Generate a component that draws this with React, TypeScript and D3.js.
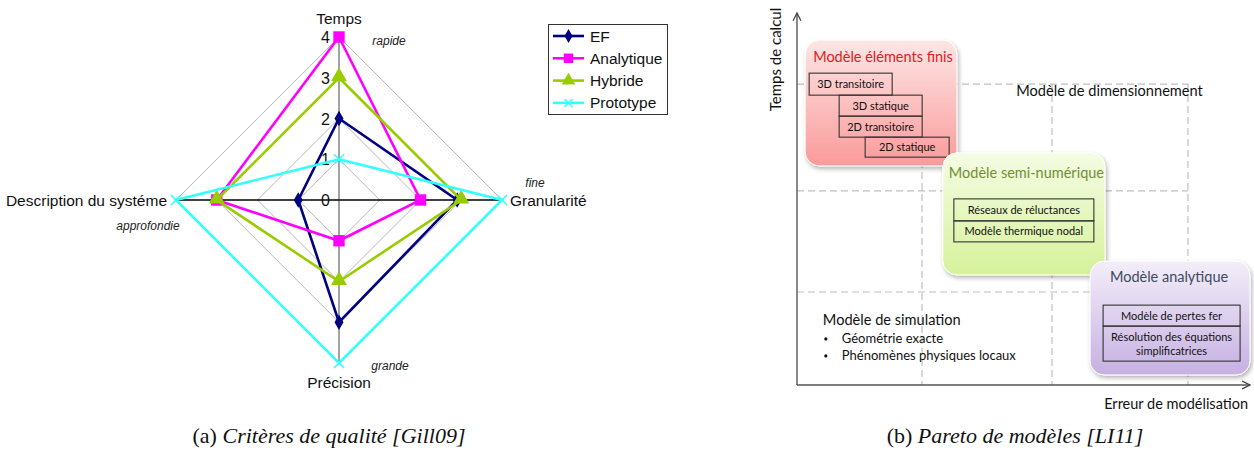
import * as d3 from "d3";

// ---- (a) radar: quality criteria ----
const axes = ["Temps", "Granularité", "Précision", "Description du systéme"];
const axisQualifiers = ["rapide", "fine", "grande", "approfondie"];
const ticks = [0, 1, 2, 3, 4];
const seriesNames = ["EF", "Analytique", "Hybride", "Prototype"];
const efValues = [2, 2.9, 3, 1];
const analytiqueValues = [4, 2, 1, 3];
const hybrideValues = [3, 3, 2, 3];
const prototypeValues = [1, 4, 4, 4];

// ---- (b) pareto of models ----
const paretoGridErr = [2.76, 5.63, 8.63];
const paretoGridTime = [2.5, 5.22, 8.09];
const groupTitles = ["Modèle éléments finis", "Modèle semi-numérique", "Modèle analytique"];
const groupErrSpan = [[0.18, 3.53], [3.22, 6.8], [6.47, 10.0]];
const groupTimeSpan = [[5.89, 9.27], [2.96, 6.24], [0.27, 3.33]];
const groupItems = [
  ["3D transitoire", "3D statique", "2D transitoire", "2D statique"],
  ["Réseaux de réluctances", "Modèle thermique nodal"],
  ["Modèle de pertes fer", "Résolution des équations|simplificatrices"],
];
const noteTexts = ["Modèle de dimensionnement", "Modèle de simulation"];
const notePos = [[4.84, 7.9], [0.57, 1.75]];
const bulletTexts = ["Géométrie exacte", "Phénomènes physiques locaux"];

const W = 1254;
const H = 450;

const COLORS = ["#000080", "#ff00ff", "#99cc00", "#33ffff"];
const ARIAL = "'Liberation Sans', Arial, sans-serif";
const CALIBRI = "Lato, 'Open Sans', sans-serif";
const SERIF = "'Liberation Serif', 'Times New Roman', serif";

// layout of item boxes inside each group (px offsets)
const ITEM_LAYOUT = [
  [
    { dx: 4, dy: 33, w: 83, h: 22 },
    { dx: 34, dy: 55, w: 83, h: 21 },
    { dx: 34, dy: 76, w: 83, h: 21 },
    { dx: 60, dy: 97, w: 84, h: 20 },
  ],
  [
    { dx: 11, dy: 46, w: 140, h: 22 },
    { dx: 11, dy: 68, w: 140, h: 21 },
  ],
  [
    { dx: 13, dy: 44, w: 137, h: 21 },
    { dx: 13, dy: 65, w: 137, h: 35 },
  ],
];
const GROUP_STYLE = [
  { top: "#fde6e6", bottom: "#fb9a9a", title: "#e0201c", tdx: 8, tdy: 22, anchor: "start" },
  { top: "#f5fce4", bottom: "#d6f29a", title: "#6f8f35", tdx: 6, tdy: 25, anchor: "start" },
  { top: "#f3eef9", bottom: "#c6b0e2", title: "#3e4a5e", tdx: -1, tdy: 21, anchor: "middle" },
];

function Radar() {
  const cx = 339;
  const cy = 200;
  const r = d3.scaleLinear().domain([0, 4]).range([0, 163]);
  const angle = (i: number) => (i * Math.PI) / 2;
  const pt = (i: number, v: number): [number, number] => [
    Math.sin(angle(i)) * r(v),
    -Math.cos(angle(i)) * r(v),
  ];
  const radial = d3
    .lineRadial<number>()
    .angle((_, i) => angle(i))
    .radius((v) => r(v))
    .curve(d3.curveLinearClosed);
  const series = [efValues, analytiqueValues, hybrideValues, prototypeValues];
  const diamond = d3.symbol(d3.symbolDiamond, 70)()!;
  const square = d3.symbol(d3.symbolSquare, 130)()!;
  const triangle = d3.symbol(d3.symbolTriangle, 110)()!;

  const marker = (k: number, key: string) => {
    const c = COLORS[k];
    if (k === 0) return <path key={key} d={diamond} fill={c} />;
    if (k === 1) return <path key={key} d={square} fill={c} />;
    if (k === 2) return <path key={key} d={triangle} fill={c} transform="translate(0,-1)" />;
    return <path key={key} d="M-5,-5L5,5M-5,5L5,-5" stroke={c} strokeWidth={1.6} fill="none" />;
  };

  const labelPos = [
    { x: 0, y: -r(4) - 13, anchor: "middle" },
    { x: r(4) + 8, y: 6, anchor: "start" },
    { x: 0, y: r(4) + 25, anchor: "middle" },
    { x: -r(4) - 9, y: 6, anchor: "end" },
  ];
  const qualPos = [
    { x: 50, y: -r(4) + 8 },
    { x: r(4) + 33, y: -13 },
    { x: 51, y: r(4) + 7 },
    { x: -r(4) - 28, y: 30 },
  ];

  return (
    <g transform={`translate(${cx},${cy})`}>
      {ticks.slice(1).map((t) => (
        <path
          key={t}
          d={radial(axes.map(() => t)) ?? ""}
          fill="none"
          stroke="#9a9a9a"
          strokeWidth={0.7}
        />
      ))}
      <line x1={0} y1={-r(4)} x2={0} y2={r(4)} stroke="#707070" strokeWidth={1.3} />
      <line x1={-r(4)} y1={0} x2={r(4)} y2={0} stroke="#000" strokeWidth={1.3} />
      {ticks.map((t) => (
        <text
          key={t}
          x={-9}
          y={-r(t) + 6}
          textAnchor="end"
          fontFamily={ARIAL}
          fontSize={16}
          fill="#111"
        >
          {t}
        </text>
      ))}
      {series.map((vals, k) => (
        <g key={k}>
          <path d={radial(vals) ?? ""} fill="none" stroke={COLORS[k]} strokeWidth={2.6} strokeLinejoin="miter" />
          {vals.map((v, i) => {
            const [x, y] = pt(i, v);
            return (
              <g key={i} transform={`translate(${x},${y})`}>
                {marker(k, `m${k}${i}`)}
              </g>
            );
          })}
        </g>
      ))}
      {axes.map((a, i) => (
        <text
          key={a}
          x={labelPos[i].x}
          y={labelPos[i].y}
          textAnchor={labelPos[i].anchor as any}
          fontFamily={ARIAL}
          fontSize={15.5}
          fill="#111"
        >
          {a}
        </text>
      ))}
      {axisQualifiers.map((q, i) => (
        <text
          key={q}
          x={qualPos[i].x}
          y={qualPos[i].y}
          textAnchor="middle"
          fontFamily={ARIAL}
          fontStyle="italic"
          fontSize={12}
          fill="#222"
        >
          {q}
        </text>
      ))}
    </g>
  );
}

function Legend() {
  const x0 = 548;
  const y0 = 24;
  const rowH = 22.3;
  const diamond = d3.symbol(d3.symbolDiamond, 55)()!;
  const square = d3.symbol(d3.symbolSquare, 90)()!;
  const triangle = d3.symbol(d3.symbolTriangle, 80)()!;
  const shapes = [diamond, square, triangle];
  return (
    <g>
      <rect x={x0 + 0.5} y={y0 + 0.5} width={119} height={90} fill="#fff" stroke="#333" strokeWidth={1} />
      {seriesNames.map((n, k) => {
        const y = y0 + 12 + k * rowH;
        return (
          <g key={n}>
            <line x1={x0 + 5} x2={x0 + 36} y1={y} y2={y} stroke={COLORS[k]} strokeWidth={2.6} />
            <g transform={`translate(${x0 + 20.5},${y})`}>
              {k < 3 ? (
                <path d={shapes[k]} fill={COLORS[k]} />
              ) : (
                <path d="M-4,-4L4,4M-4,4L4,-4" stroke={COLORS[k]} strokeWidth={1.4} />
              )}
            </g>
            <text x={x0 + 42} y={y + 5.5} fontFamily={ARIAL} fontSize={15.5} fill="#111">
              {n}
            </text>
          </g>
        );
      })}
    </g>
  );
}

function Pareto() {
  const x = d3.scaleLinear().domain([0, 10]).range([797, 1250]);
  const y = d3.scaleLinear().domain([0, 10]).range([385, 13]);
  const gridRight = x(paretoGridErr[2]);
  const gridTop = y(paretoGridTime[2]);
  return (
    <g>
      <defs>
        {GROUP_STYLE.map((s, i) => (
          <linearGradient key={i} id={`grad${i}`} x1="0" y1="0" x2="0" y2="1">
            <stop offset="0" stopColor={s.top} />
            <stop offset="1" stopColor={s.bottom} />
          </linearGradient>
        ))}
        <filter id="shadow" x="-10%" y="-10%" width="125%" height="130%">
          <feDropShadow dx="1.5" dy="2.5" stdDeviation="2" floodColor="#000" floodOpacity="0.3" />
        </filter>
        <marker id="arrow" viewBox="0 0 10 10" refX="9" refY="5" markerWidth="7" markerHeight="7" orient="auto">
          <path d="M1,1L9,5L1,9" fill="none" stroke="#444" strokeWidth={1.3} />
        </marker>
      </defs>

      {paretoGridTime.map((t) => (
        <line key={`h${t}`} x1={x(0)} x2={gridRight} y1={y(t)} y2={y(t)} stroke="#c0c0c0" strokeWidth={1.2} strokeDasharray="7,4" />
      ))}
      {paretoGridErr.map((e) => (
        <line key={`v${e}`} x1={x(e)} x2={x(e)} y1={gridTop} y2={y(0)} stroke="#c0c0c0" strokeWidth={1.2} strokeDasharray="7,4" />
      ))}

      <line x1={x(0)} y1={y(0)} x2={x(0)} y2={y(10)} stroke="#555" strokeWidth={1.4} markerEnd="url(#arrow)" />
      <line x1={x(0)} y1={y(0)} x2={x(10)} y2={y(0)} stroke="#555" strokeWidth={1.4} markerEnd="url(#arrow)" />
      <text
        transform={`translate(781,${y(8.75)}) rotate(-90)`}
        textAnchor="middle"
        fontFamily={CALIBRI}
        fontSize={15}
        fill="#111"
      >
        Temps de calcul
      </text>
      <text x={1248} y={409} textAnchor="end" fontFamily={CALIBRI} fontSize={14.5} fill="#111">
        Erreur de modélisation
      </text>

      {noteTexts.map((t, i) => (
        <text key={t} x={x(notePos[i][0])} y={y(notePos[i][1]) + 5} fontFamily={CALIBRI} fontSize={14.6} fill="#111">
          {t}
        </text>
      ))}
      {bulletTexts.map((t, i) => {
        const bx = x(notePos[1][0]);
        const by = y(notePos[1][1]) + 23 + i * 17;
        return (
          <g key={t}>
            <circle cx={bx + 3} cy={by - 4} r={1.6} fill="#111" />
            <text x={bx + 19} y={by} fontFamily={CALIBRI} fontSize={13} fill="#111">
              {t}
            </text>
          </g>
        );
      })}

      {groupTitles.map((title, gi) => {
        const x0 = x(groupErrSpan[gi][0]);
        const x1 = Math.min(x(groupErrSpan[gi][1]), W - 2);
        const y0 = y(groupTimeSpan[gi][1]);
        const y1 = y(groupTimeSpan[gi][0]);
        const s = GROUP_STYLE[gi];
        const tx = s.anchor === "middle" ? (x0 + x1) / 2 + s.tdx : x0 + s.tdx;
        return (
          <g key={title}>
            <rect
              x={x0}
              y={y0}
              width={x1 - x0}
              height={y1 - y0}
              rx={14}
              fill={`url(#grad${gi})`}
              stroke="#fff"
              strokeWidth={1}
              filter="url(#shadow)"
            />
            <text x={tx} y={y0 + s.tdy} textAnchor={s.anchor as any} fontFamily={CALIBRI} fontSize={14.5} fill={s.title}>
              {title}
            </text>
            {groupItems[gi].map((item, ii) => {
              const L = ITEM_LAYOUT[gi][ii];
              const lines = item.split("|");
              const cxItem = x0 + L.dx + L.w / 2;
              const cyItem = y0 + L.dy + L.h / 2;
              return (
                <g key={item}>
                  <rect x={x0 + L.dx} y={y0 + L.dy} width={L.w} height={L.h} fill="none" stroke="#333" strokeWidth={1.1} />
                  {lines.map((ln, li) => (
                    <text
                      key={ln}
                      x={cxItem}
                      y={cyItem + 4 + (li - (lines.length - 1) / 2) * 14}
                      textAnchor="middle"
                      fontFamily={CALIBRI}
                      fontSize={11}
                      fill="#111"
                    >
                      {ln}
                    </text>
                  ))}
                </g>
              );
            })}
          </g>
        );
      })}
    </g>
  );
}

function Captions() {
  return (
    <g fontFamily={SERIF} fontSize={22} fill="#111">
      <text x={329} y={443} textAnchor="middle">
        (a) <tspan fontStyle="italic">Critères de qualité [Gill09]</tspan>
      </text>
      <text x={1015} y={443} textAnchor="middle">
        (b) <tspan fontStyle="italic">Pareto de modèles [LI11]</tspan>
      </text>
    </g>
  );
}

export default function App() {
  return (
    <svg
      width={W}
      height={H}
      viewBox={`0 0 ${W} ${H}`}
      style={{ position: "absolute", left: 0, top: 0, background: "#fff" }}
    >
      <rect width={W} height={H} fill="#fff" />
      <Radar />
      <Legend />
      <Pareto />
      <Captions />
    </svg>
  );
}
